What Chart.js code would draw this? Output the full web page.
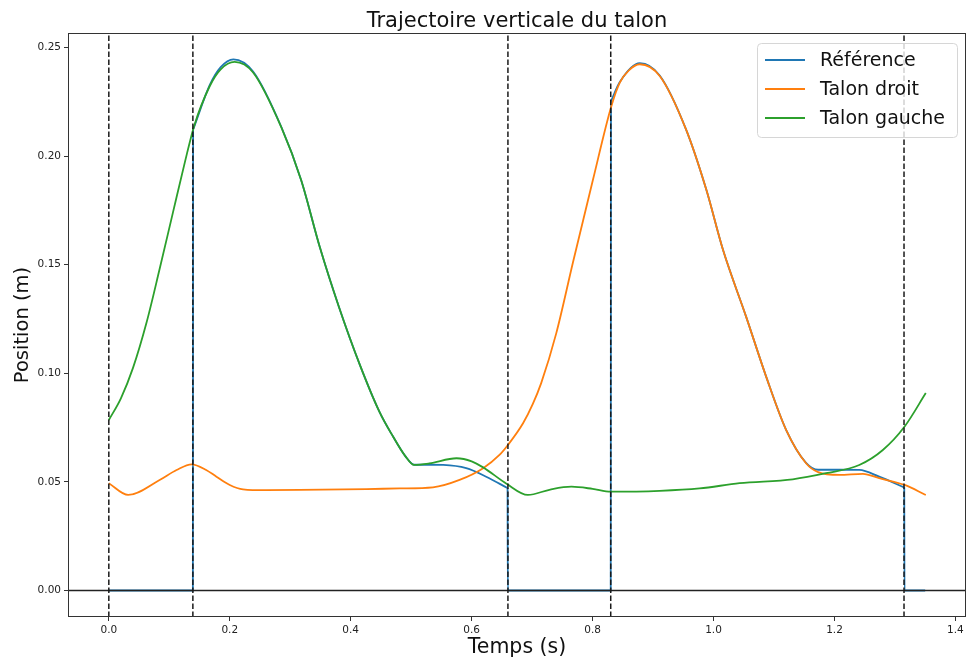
<!DOCTYPE html>
<html lang="fr">
<head>
<meta charset="utf-8">
<title>Trajectoire verticale du talon</title>
<script src="https://cdn.jsdelivr.net/npm/chart.js@4.4.1/dist/chart.umd.min.js"></script>
<style>
  html, body { margin: 0; padding: 0; background: #fff; }
  #graf { display: block; }
</style>
</head>
<body>
<canvas id="graf" width="967" height="663"></canvas>
<script>
// valeurs (temps en s, position en m)
// la référence est coupée (null) à chaque saut pour garder des courbes lisses
const tempsRef = [0, 0.139, 0.1394, 0.1396,
                  0.1398, 0.167, 0.185, 0.206, 0.2386, 0.2855, 0.318, 0.349, 0.38, 0.415, 0.448, 0.47, 0.49, 0.505, 0.53, 0.553, 0.591, 0.624, 0.659, 0.6592,
                  0.6594, 0.6598, 0.83, 0.8304, 0.8306,
                  0.8308, 0.845, 0.878, 0.911, 0.9545, 0.988, 1.0155, 1.054, 1.087, 1.12, 1.153, 1.173, 1.21, 1.241, 1.274, 1.315, 1.3152,
                  1.3154, 1.3158, 1.35];
const posRef = [0, 0, 0.2125, null,
                0.2125, 0.2328, 0.2410, 0.2446, 0.2390, 0.2133, 0.189, 0.158, 0.131, 0.104, 0.082, 0.0709, 0.062, 0.0579, 0.0579, 0.0578, 0.0563, 0.0524, 0.0472, null,
                0.0472, 0, 0, 0.2255, null,
                0.2255, 0.2341, 0.2428, 0.2371, 0.2123, 0.1846, 0.157, 0.126, 0.0985, 0.074, 0.0588, 0.0556, 0.0556, 0.0555, 0.0524, 0.0475, null,
                0.0475, 0, 0];

const tempsDroit = [0, 0.032, 0.084, 0.112, 0.137, 0.161, 0.178, 0.2, 0.222, 0.26, 0.316, 0.426, 0.481, 0.536, 0.58, 0.619, 0.646, 0.66, 0.685, 0.701, 0.715, 0.74,
                    0.7675, 0.8005, 0.831, 0.845, 0.86, 0.878, 0.911, 0.9545, 0.988, 1.0155, 1.054, 1.087, 1.12, 1.153, 1.173, 1.208, 1.247, 1.274, 1.316, 1.351];
const posDroit = [0.0494, 0.044, 0.0509, 0.0555, 0.0581, 0.0555, 0.0524, 0.0486, 0.0466, 0.0462, 0.0463, 0.0467, 0.047, 0.0475, 0.0509, 0.0563, 0.0624, 0.067, 0.077, 0.0858, 0.0955, 0.1185,
                  0.151, 0.189, 0.223, 0.2339, 0.2395, 0.2423, 0.2369, 0.2123, 0.1846, 0.157, 0.126, 0.0985, 0.074, 0.0586, 0.0545, 0.0532, 0.0537, 0.0517, 0.0486, 0.044];

const tempsGauche = [0, 0.02, 0.04, 0.0625, 0.084, 0.106, 0.1256, 0.141, 0.167, 0.185, 0.208, 0.2386, 0.2855, 0.318, 0.349, 0.38, 0.415, 0.448, 0.47, 0.49, 0.505, 0.53, 0.575,
                     0.6, 0.619, 0.657, 0.693, 0.73, 0.765, 0.8, 0.83, 0.911, 0.977, 1.043, 1.131, 1.186, 1.241, 1.28, 1.316, 1.351];
const posGauche = [0.0785, 0.0885, 0.1025, 0.1235, 0.148, 0.174, 0.197, 0.2138, 0.2323, 0.2400, 0.2434, 0.2385, 0.2131, 0.189, 0.158, 0.131, 0.104, 0.082, 0.0709, 0.062, 0.0578, 0.0585, 0.0609,
                   0.0595, 0.0567, 0.0493, 0.044, 0.0465, 0.0478, 0.0468, 0.0455, 0.0459, 0.047, 0.0494, 0.0512, 0.054, 0.0578, 0.0647, 0.0755, 0.0909];

// instants des traits verticaux pointillés
const instantsAppui = [0, 0.139, 0.66, 0.83, 1.315];

const ticksX = [0, 0.2, 0.4, 0.6, 0.8, 1.0, 1.2, 1.4];
const ticksY = [0, 0.05, 0.10, 0.15, 0.20, 0.25];

const X_MIN = -0.0675, X_MAX = 1.4175;
const Y_MIN = -0.0122, Y_MAX = 0.2567;
const police = '"DejaVu Sans", "Liberation Sans", sans-serif';

function points(ts, ys) {
    return ts.map((t, i) => ({ x: t, y: ys[i] }));
}

const courbes = [
    { label: 'Référence', data: points(tempsRef, posRef), borderColor: '#1f77b4', order: 3 },
    { label: 'Talon droit', data: points(tempsDroit, posDroit), borderColor: '#ff7f0e', order: 2 },
    { label: 'Talon gauche', data: points(tempsGauche, posGauche), borderColor: '#2ca02c', order: 1 }
].map(d => Object.assign(d, { borderWidth: 1.8, cubicInterpolationMode: 'monotone', pointRadius: 0, fill: false, spanGaps: false }));

const traits = instantsAppui.map(t => ({
    label: '', data: [{ x: t, y: Y_MIN }, { x: t, y: Y_MAX }],
    borderColor: '#1a1a1a', borderWidth: 1.5, borderDash: [5.5, 2.5], pointRadius: 0, order: 0, fill: false
}));
traits.push({
    label: '', data: [{ x: X_MIN, y: 0 }, { x: X_MAX, y: 0 }],
    borderColor: '#222', borderWidth: 1.5, pointRadius: 0, order: 0, fill: false
});

// cadre, titre et légende à la manière de matplotlib
const cadreEtLegende = {
    id: 'cadreEtLegende',
    afterDatasetsDraw(chart) {
        const { ctx, chartArea: a } = chart;
        ctx.save();
        ctx.strokeStyle = '#333';
        ctx.lineWidth = 1;
        ctx.strokeRect(a.left + 0.5, a.top + 0.5, a.right - a.left - 1, a.bottom - a.top - 1);
        ctx.restore();
    },
    afterDraw(chart) {
        const { ctx, chartArea: a } = chart;
        ctx.save();
        ctx.fillStyle = '#111';
        ctx.font = '21px ' + police;
        ctx.textAlign = 'center';
        ctx.textBaseline = 'alphabetic';
        ctx.fillText('Trajectoire verticale du talon', (a.left + a.right) / 2, 27);

        const x0 = a.right - 209, y0 = a.top + 10, w = 200, h = 94;
        ctx.beginPath();
        ctx.roundRect(x0 + 0.5, y0 + 0.5, w, h, 4);
        ctx.fillStyle = 'rgba(255,255,255,0.8)';
        ctx.fill();
        ctx.strokeStyle = '#d6d6d6';
        ctx.lineWidth = 1;
        ctx.stroke();

        ctx.font = '19px ' + police;
        ctx.textAlign = 'left';
        ctx.textBaseline = 'middle';
        courbes.forEach((d, i) => {
            const y = y0 + 17 + i * 29;
            ctx.beginPath();
            ctx.moveTo(x0 + 8, y);
            ctx.lineTo(x0 + 48, y);
            ctx.strokeStyle = d.borderColor;
            ctx.lineWidth = 1.8;
            ctx.stroke();
            ctx.fillStyle = '#111';
            ctx.fillText(d.label, x0 + 63, y + 1);
        });
        ctx.restore();
    }
};

window.grafica = new Chart(document.getElementById('graf'), {
    type: 'line',
    data: { datasets: courbes.concat(traits) },
    options: {
        responsive: false,
        animation: false,
        layout: { padding: { top: 33, right: 1, bottom: 0, left: 0 } },
        plugins: {
            legend: { display: false },
            tooltip: { enabled: false },
            title: { display: false }
        },
        scales: {
            x: {
                type: 'linear',
                min: X_MIN,
                max: X_MAX,
                afterFit: s => { s.height = 46; },
                afterBuildTicks: s => { s.ticks = ticksX.map(v => ({ value: v })); },
                ticks: { callback: v => v.toFixed(1), font: { family: police, size: 10.5 }, color: '#222', padding: 3, maxRotation: 0, autoSkip: false },
                grid: { drawOnChartArea: false, tickLength: 4, color: '#333' },
                border: { display: false },
                title: { display: true, text: 'Temps (s)', font: { family: police, size: 20.5 }, color: '#111', padding: { top: 0, bottom: 3 } }
            },
            y: {
                type: 'linear',
                min: Y_MIN,
                max: Y_MAX,
                afterFit: s => { s.width = 68; },
                afterBuildTicks: s => { s.ticks = ticksY.map(v => ({ value: v })); },
                ticks: { callback: v => v.toFixed(2), font: { family: police, size: 10.5 }, color: '#222', padding: 3, autoSkip: false },
                grid: { drawOnChartArea: false, tickLength: 4, color: '#333' },
                border: { display: false },
                title: { display: true, text: 'Position (m)', font: { family: police, size: 19.5 }, color: '#111', padding: { top: 11, bottom: 0 } }
            }
        }
    },
    plugins: [cadreEtLegende]
});
</script>
</body>
</html>
